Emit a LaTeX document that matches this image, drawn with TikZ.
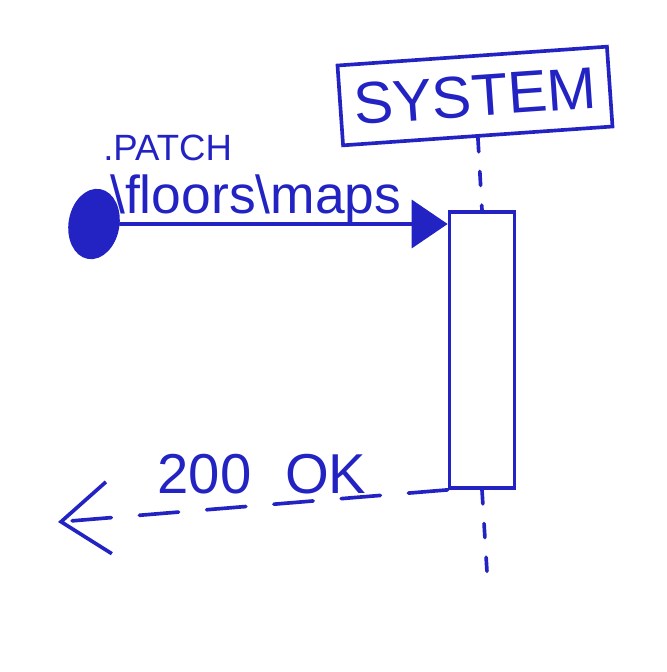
\documentclass[tikz,border=0pt]{standalone}
\usepackage{fontspec}
\setmainfont{Liberation Sans}
\usetikzlibrary{arrows.meta,positioning,shapes.geometric}
\definecolor{tinta}{RGB}{35,35,195}
\tikzset{
  vonal/.style={draw=tinta,line width=2.6pt,line cap=round},
  doboz/.style={vonal,minimum width=6.75cm,minimum height=2cm,inner sep=0pt},
  aktiv/.style={vonal,minimum width=1.625cm,minimum height=6.9cm,inner sep=0pt},
  kezdo/.style={ellipse,draw=tinta,fill=tinta,line width=2pt,minimum width=1.2cm,minimum height=1.7cm,inner sep=0pt},
  eletvonal/.style={vonal,dash pattern=on 10pt off 14pt},
  uzenet/.style={vonal,-{Triangle[length=9mm,width=12mm]}},
  valasz/.style={vonal,dash pattern=on 28pt off 20pt,-{Straight Barb[length=12mm,width=18mm]}},
  felirat/.style={text=tinta,inner sep=0pt},
}
\begin{document}
\begin{tikzpicture}[x=0.025cm,y=-0.025cm]
  \useasboundingbox (0,0) rectangle (666,672);
  % resztvevo, aktivacio, kezdopont
  \node[doboz,rotate=4,text=tinta,font=\fontsize{42}{44}\selectfont] (sys) at (475,96) {SYSTEM};
  \node[aktiv] (act) at (482,350) {};
  \node[kezdo,rotate=-10] (start) at (94,224) {};
  % eletvonal
  \draw[eletvonal] (sys.south) -- (act.north);
  \coordinate (vege) at (487,572);
  \draw[eletvonal] (act.south) -- (vege);
  % uzenetek
  \draw[uzenet] (start) -- (start -| act.west);
  \coordinate (vissza) at (58,522);
  \draw[valasz] (act.south west) -- (vissza);
  % feliratok
  \node[felirat,font=\fontsize{26}{28}\selectfont,anchor=base west] (metodus) at (103,160) {.PATCH};
  \node[felirat,font=\fontsize{38}{40}\selectfont,anchor=base west] (utvonal) at (110,213) {\textbackslash floors\textbackslash maps};
  \node[felirat,font=\fontsize{40}{42}\selectfont,anchor=base] (kod) at (262,493) {200\hspace{0.6em}OK};
\end{tikzpicture}
\end{document}
